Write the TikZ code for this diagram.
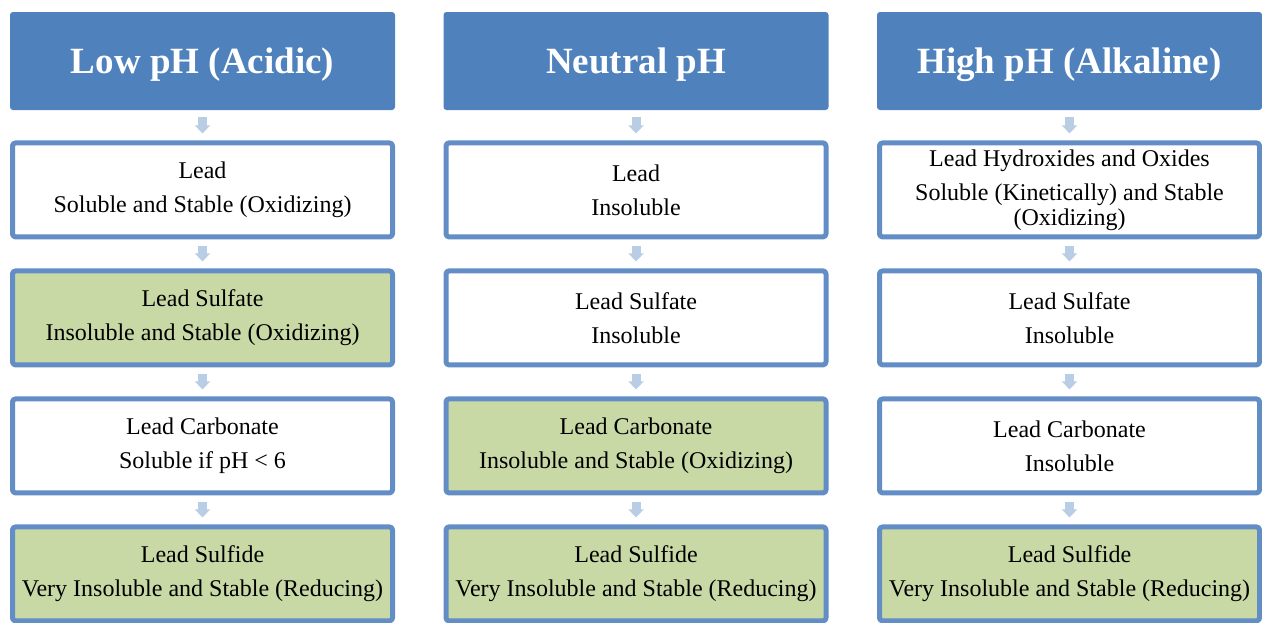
\documentclass[tikz,border=0pt]{standalone}
\usepackage{fontspec}
\setmainfont{Liberation Serif}
\usetikzlibrary{positioning,arrows.meta}
\definecolor{headblue}{HTML}{4F81BD}
\definecolor{edgeblue}{HTML}{628DC5}
\definecolor{stepgreen}{HTML}{C8D9A6}
\definecolor{arrowblue}{HTML}{B9CDE5}
\begin{document}
\begin{tikzpicture}[x=0.5pt,y=-0.5pt,line join=round,
    phead/.style={fill=headblue,text=white,font=\fontsize{18.5}{22}\selectfont\bfseries,
        minimum width=192.5pt,minimum height=49pt,rounded corners=1.5pt,inner sep=0pt,
        text depth=0pt},
    pbox/.style={draw=edgeblue,line width=2.5pt,fill=white,minimum width=190pt,
        minimum height=47pt,rounded corners=1.5pt,align=center,inner sep=0pt,
        font=\fontsize{12}{12.5}\selectfont},
    pgreen/.style={pbox,fill=stepgreen},
    flow/.style={arrowblue,line width=4.5pt,-{Triangle[width=7.5pt,length=4pt]},
        shorten <=3.5pt,shorten >=3.5pt}]
    \useasboundingbox (0,0) rectangle (1262,622);
    % acidic
    \node[phead] (h1) at (202.5,61) {Low pH (Acidic)};
    \node[pbox,below=15pt of h1] (a1) {Lead\\[4.5pt]Soluble and Stable (Oxidizing)};
    \node[pgreen,below=14.5pt of a1] (a2) {Lead Sulfate\\[4.5pt]Insoluble and Stable (Oxidizing)};
    \node[pbox,below=14.5pt of a2] (a3) {Lead Carbonate\\[4.5pt]Soluble if pH < 6};
    \node[pgreen,below=14.5pt of a3] (a4) {Lead Sulfide\\[4.5pt]Very Insoluble and Stable (Reducing)};
    % neutral
    \node[phead] (h2) at (636,61) {Neutral pH};
    \node[pbox,below=15pt of h2] (b1) {Lead\\[4.5pt]Insoluble};
    \node[pbox,below=14.5pt of b1] (b2) {Lead Sulfate\\[4.5pt]Insoluble};
    \node[pgreen,below=14.5pt of b2] (b3) {Lead Carbonate\\[4.5pt]Insoluble and Stable (Oxidizing)};
    \node[pgreen,below=14.5pt of b3] (b4) {Lead Sulfide\\[4.5pt]Very Insoluble and Stable (Reducing)};
    % alkaline
    \node[phead] (h3) at (1069.5,61) {High pH (Alkaline)};
    \node[pbox,below=15pt of h3] (c1) {Lead Hydroxides and Oxides\\[4.5pt]Soluble (Kinetically) and Stable\\(Oxidizing)};
    \node[pbox,below=14.5pt of c1] (c2) {Lead Sulfate\\[4.5pt]Insoluble};
    \node[pbox,below=14.5pt of c2] (c3) {Lead Carbonate\\[4.5pt]Insoluble};
    \node[pgreen,below=14.5pt of c3] (c4) {Lead Sulfide\\[4.5pt]Very Insoluble and Stable (Reducing)};
    \draw[flow] (h1.south)--(a1.north);
    \draw[flow] (a1.south)--(a2.north);
    \draw[flow] (a2.south)--(a3.north);
    \draw[flow] (a3.south)--(a4.north);
    \draw[flow] (h2.south)--(b1.north);
    \draw[flow] (b1.south)--(b2.north);
    \draw[flow] (b2.south)--(b3.north);
    \draw[flow] (b3.south)--(b4.north);
    \draw[flow] (h3.south)--(c1.north);
    \draw[flow] (c1.south)--(c2.north);
    \draw[flow] (c2.south)--(c3.north);
    \draw[flow] (c3.south)--(c4.north);
\end{tikzpicture}
\end{document}
